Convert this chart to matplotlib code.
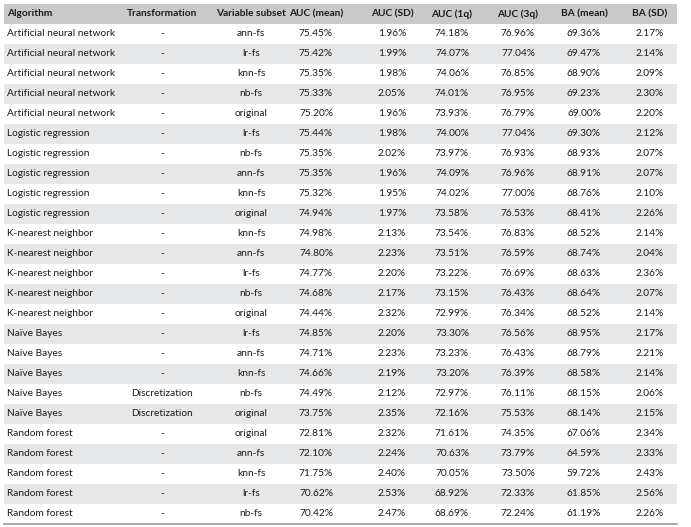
import matplotlib.pyplot as plt
from matplotlib.patches import Rectangle

plt.rcParams['font.family'] = ['Lato', 'DejaVu Sans']

columns = ["Algorithm", "Transformation", "Variable subset", "AUC (mean)", "AUC (SD)",
           "AUC (1q)", "AUC (3q)", "BA (mean)", "BA (SD)"]

algorithm = (["Artificial neural network"] * 5 + ["Logistic regression"] * 5 +
             ["K-nearest neighbor"] * 5 + ["Naïve Bayes"] * 5 + ["Random forest"] * 5)
transformation = ["-"] * 18 + ["Discretization", "Discretization"] + ["-"] * 5
subset = ["ann-fs", "lr-fs", "knn-fs", "nb-fs", "original",
          "lr-fs", "nb-fs", "ann-fs", "knn-fs", "original",
          "knn-fs", "ann-fs", "lr-fs", "nb-fs", "original",
          "lr-fs", "ann-fs", "knn-fs", "nb-fs", "original",
          "original", "ann-fs", "knn-fs", "lr-fs", "nb-fs"]
auc_mean = [75.45, 75.42, 75.35, 75.33, 75.20, 75.44, 75.35, 75.35, 75.32, 74.94,
            74.98, 74.80, 74.77, 74.68, 74.44, 74.85, 74.71, 74.66, 74.49, 73.75,
            72.81, 72.10, 71.75, 70.62, 70.42]
auc_sd = [1.96, 1.99, 1.98, 2.05, 1.96, 1.98, 2.02, 1.96, 1.95, 1.97,
          2.13, 2.23, 2.20, 2.17, 2.32, 2.20, 2.23, 2.19, 2.12, 2.35,
          2.32, 2.24, 2.40, 2.53, 2.47]
auc_1q = [74.18, 74.07, 74.06, 74.01, 73.93, 74.00, 73.97, 74.09, 74.02, 73.58,
          73.54, 73.51, 73.22, 73.15, 72.99, 73.30, 73.23, 73.20, 72.97, 72.16,
          71.61, 70.63, 70.05, 68.92, 68.69]
auc_3q = [76.96, 77.04, 76.85, 76.95, 76.79, 77.04, 76.93, 76.96, 77.00, 76.53,
          76.83, 76.59, 76.69, 76.43, 76.34, 76.56, 76.43, 76.39, 76.11, 75.53,
          74.35, 73.79, 73.50, 72.33, 72.24]
ba_mean = [69.36, 69.47, 68.90, 69.23, 69.00, 69.30, 68.93, 68.91, 68.76, 68.41,
           68.52, 68.74, 68.63, 68.64, 68.52, 68.95, 68.79, 68.58, 68.15, 68.14,
           67.06, 64.59, 59.72, 61.85, 61.19]
ba_sd = [2.17, 2.14, 2.09, 2.30, 2.20, 2.12, 2.07, 2.07, 2.10, 2.26,
         2.14, 2.04, 2.36, 2.07, 2.14, 2.17, 2.21, 2.14, 2.06, 2.15,
         2.34, 2.33, 2.43, 2.56, 2.26]

# column layout (pixels)
col_x = [7, 162, 251, 316, 392, 452, 518, 584, 650]
col_ha = ["left"] + ["center"] * 8
left, right = 4, 677
top, row_h = 4, 20

fig = plt.figure(figsize=(6.91, 5.27), dpi=100)
ax = fig.add_axes([0, 0, 1, 1])
ax.set_xlim(0, 691)
ax.set_ylim(527, 0)
ax.axis("off")

txt = "#1c1a1b"
ax.add_patch(Rectangle((left, top), right - left, row_h, color="#c8c9cb", lw=0))
for j, c in enumerate(columns):
    ax.text(col_x[j], top + row_h / 2, c, ha=col_ha[j], va="center",
            fontsize=7.3, fontweight="bold", color=txt)

n = len(algorithm)
for i in range(n):
    y0 = top + row_h * (i + 1)
    if i % 2 == 1:
        ax.add_patch(Rectangle((left, y0), right - left, row_h, color="#e6e7e8", lw=0))
    vals = [algorithm[i], transformation[i], subset[i],
            f"{auc_mean[i]:.2f}%", f"{auc_sd[i]:.2f}%", f"{auc_1q[i]:.2f}%",
            f"{auc_3q[i]:.2f}%", f"{ba_mean[i]:.2f}%", f"{ba_sd[i]:.2f}%"]
    for j, v in enumerate(vals):
        ax.text(col_x[j], y0 + row_h / 2, v, ha=col_ha[j], va="center",
                fontsize=7.3, color=txt)

y_end = top + row_h * (n + 1)
ax.plot([left, right], [y_end - 0.5, y_end - 0.5], color="#9a9a9a", lw=1.2)

fig.savefig("out.png", dpi=100)
